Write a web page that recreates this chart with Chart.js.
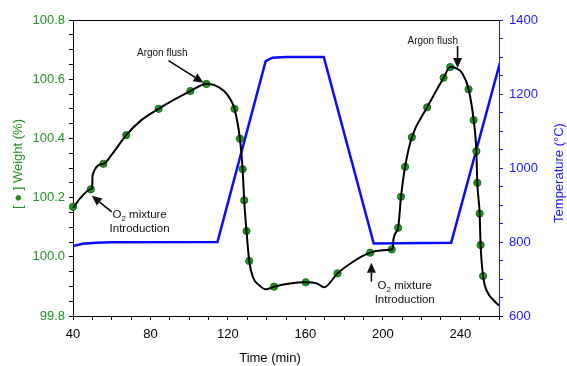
<!DOCTYPE html>
<html>
<head>
<meta charset="utf-8">
<script src="https://cdn.jsdelivr.net/npm/chart.js@4/dist/chart.umd.min.js"></script>
<style>
  html, body { margin: 0; padding: 0; background: #fff; }
  #wrap { width: 567px; height: 366px; position: relative; }
</style>
</head>
<body>
<div id="wrap"><canvas id="tgaChart"></canvas></div>
<script>
// weight curve (time in min, weight in %)
const weightTime = [40, 44, 49.2, 49.9, 50.1, 55.7, 60, 67.5, 75, 84.2, 92, 100.6, 108.9, 113, 118, 121, 123.4, 126.2, 127.6, 128.4, 129.6, 131.0, 133, 136, 139.5, 143.8, 152, 160.2, 166, 169.7, 176.6, 185, 193.5, 200, 204.6, 205.2, 205.5, 207.9, 209.4, 211.5, 215.0, 222.9, 231.4, 234.8, 237.9, 241, 244.3, 246.9, 248.3, 248.8, 250.0, 250.5, 251.8, 254.3, 257, 260];
const weightVal = [100.165, 100.2, 100.228, 100.232, 100.275, 100.314, 100.345, 100.411, 100.46, 100.50, 100.53, 100.56, 100.584, 100.58, 100.56, 100.535, 100.50, 100.399, 100.296, 100.191, 100.087, 99.986, 99.93, 99.905, 99.89, 99.899, 99.91, 99.914, 99.91, 99.897, 99.944, 99.985, 100.014, 100.022, 100.025, 100.03, 100.06, 100.098, 100.203, 100.304, 100.404, 100.505, 100.605, 100.641, 100.637, 100.62, 100.566, 100.462, 100.357, 100.250, 100.146, 100.040, 99.935, 99.877, 99.855, 99.835];

// green markers on the weight curve
const dotTime = [40, 49.2, 55.7, 67.5, 84.2, 100.6, 108.9, 123.4, 126.2, 127.6, 128.4, 129.6, 131.0, 143.8, 160.2, 176.6, 193.5, 204.6, 207.9, 209.4, 211.5, 215.0, 222.9, 231.4, 234.8, 244.3, 246.9, 248.3, 248.8, 250.0, 250.5, 251.8];
const dotVal = [100.169, 100.228, 100.314, 100.411, 100.50, 100.56, 100.584, 100.50, 100.399, 100.296, 100.191, 100.087, 99.986, 99.899, 99.914, 99.944, 100.014, 100.025, 100.098, 100.203, 100.304, 100.404, 100.505, 100.605, 100.641, 100.566, 100.462, 100.357, 100.250, 100.146, 100.040, 99.935];

// furnace temperature program
const tempTime = [40, 45, 52, 60, 114.6, 139.5, 143, 150, 169.5, 195.3, 235.3, 260.4];
const tempVal = [789, 795, 798, 799, 800, 1289, 1298, 1300, 1300, 796, 798, 1283];

// annotations: text anchor and arrow (tail -> head) in data units
const noteText = [['Argon flush'], ['O_2 mixture', 'Introduction'], ['Argon flush'], ['O_2 mixture', 'Introduction']];
const noteAt = [[86.1, 100.689], [74.4, 100.141], [225.8, 100.729], [211.3, 99.901]];
const arrowFrom = [[89.3, 100.6625], [60.0, 100.152], [238.6, 100.712], [194.1, 99.916]];
const arrowTo = [[107.4, 100.588], [49.7, 100.206], [238.6, 100.638], [194.1, 99.98]];

const GREEN = '#229322';
const BLUE = '#1a1aff';
const FONT = '"Liberation Sans", Arial, sans-serif';

const pts = (xs, ys) => xs.map((x, i) => ({ x, y: ys[i] }));

// text with "_2" style subscripts
function drawSubText(ctx, str, cx, cy, size) {
  const parts = str.split('_');
  const segs = [{ t: parts[0], sub: false }];
  for (let i = 1; i < parts.length; i++) {
    segs.push({ t: parts[i].charAt(0), sub: true });
    segs.push({ t: parts[i].slice(1), sub: false });
  }
  let w = 0;
  segs.forEach(s => {
    ctx.font = (s.sub ? size * 0.7 : size) + 'px ' + FONT;
    s.w = ctx.measureText(s.t).width;
    w += s.w;
  });
  let x = cx - w / 2;
  ctx.textAlign = 'left';
  ctx.textBaseline = 'middle';
  segs.forEach(s => {
    ctx.font = (s.sub ? size * 0.7 : size) + 'px ' + FONT;
    ctx.fillText(s.t, x, s.sub ? cy + size * 0.3 : cy);
    x += s.w;
  });
}

function drawArrow(ctx, x1, y1, x2, y2) {
  const ang = Math.atan2(y2 - y1, x2 - x1);
  const len = 10, half = 4.5;
  const bx = x2 - len * Math.cos(ang), by = y2 - len * Math.sin(ang);
  ctx.beginPath();
  ctx.moveTo(x1, y1);
  ctx.lineTo(bx, by);
  ctx.lineWidth = 1.5;
  ctx.stroke();
  ctx.beginPath();
  ctx.moveTo(x2, y2);
  ctx.lineTo(bx + half * Math.sin(ang), by - half * Math.cos(ang));
  ctx.lineTo(bx - half * Math.sin(ang), by + half * Math.cos(ang));
  ctx.closePath();
  ctx.fill();
}

const decorPlugin = {
  id: 'decor',
  afterDatasetsDraw(chart) {
    const { ctx, chartArea, scales } = chart;
    const xs = scales.x, ys = scales.y;
    ctx.save();
    // top frame line
    ctx.strokeStyle = '#000';
    ctx.lineWidth = 1;
    ctx.beginPath();
    ctx.moveTo(chartArea.left, chartArea.top + 0.5);
    ctx.lineTo(chartArea.right, chartArea.top + 0.5);
    ctx.stroke();

    ctx.fillStyle = '#111';
    ctx.strokeStyle = '#000';
    noteText.forEach((lines, i) => {
      const size = lines.length > 1 ? 11.5 : 10;
      const cx = xs.getPixelForValue(noteAt[i][0]);
      const cy = ys.getPixelForValue(noteAt[i][1]);
      lines.forEach((ln, j) => drawSubText(ctx, ln, cx, cy + j * 13.5, size));
      drawArrow(ctx,
        xs.getPixelForValue(arrowFrom[i][0]), ys.getPixelForValue(arrowFrom[i][1]),
        xs.getPixelForValue(arrowTo[i][0]), ys.getPixelForValue(arrowTo[i][1]));
    });
    ctx.restore();
  },
  afterDraw(chart) {
    const { ctx, chartArea } = chart;
    const midY = (chartArea.top + chartArea.bottom) / 2;
    ctx.save();
    ctx.font = '13px ' + FONT;
    ctx.textAlign = 'center';
    ctx.textBaseline = 'middle';
    // left title
    ctx.fillStyle = GREEN;
    ctx.translate(18, midY - 4);
    ctx.rotate(-Math.PI / 2);
    ctx.fillText('[ \u25CF ] Weight (%)', 0, 0);
    ctx.restore();
    // right title
    ctx.save();
    ctx.font = '13px ' + FONT;
    ctx.textAlign = 'center';
    ctx.textBaseline = 'middle';
    ctx.fillStyle = BLUE;
    ctx.translate(559, midY + 5);
    ctx.rotate(-Math.PI / 2);
    ctx.fillText('Temperature (\u00B0C)', 0, 0);
    ctx.restore();
    // bottom title
    ctx.save();
    ctx.font = '13px ' + FONT;
    ctx.textAlign = 'center';
    ctx.textBaseline = 'middle';
    ctx.fillStyle = '#000';
    ctx.fillText('Time (min)', 270, 358);
    ctx.restore();
  }
};

new Chart(document.getElementById('tgaChart'), {
  type: 'line',
  data: {
    datasets: [{
      label: 'Weight',
      data: pts(weightTime, weightVal),
      yAxisID: 'y',
      borderColor: '#000',
      borderWidth: 2,
      pointRadius: 0,
      cubicInterpolationMode: 'monotone',
      fill: false,
      clip: false,
      order: 0
    }, {
      label: 'Weight points',
      data: pts(dotTime, dotVal),
      yAxisID: 'y',
      showLine: false,
      pointRadius: 3.6,
      pointBackgroundColor: '#1d9a1d',
      pointBorderColor: '#137013',
      pointBorderWidth: 1,
      clip: false,
      order: 1
    }, {
      label: 'Temperature',
      data: pts(tempTime, tempVal),
      yAxisID: 'y1',
      borderColor: '#0a0aff',
      borderWidth: 2.5,
      pointRadius: 0,
      tension: 0,
      fill: false,
      order: 2
    }]
  },
  options: {
    responsive: true,
    maintainAspectRatio: false,
    animation: false,
    events: [],
    layout: { padding: { top: 20, left: 0, right: 0, bottom: 0 } },
    plugins: { legend: { display: false }, tooltip: { enabled: false } },
    scales: {
      x: {
        type: 'linear',
        position: 'bottom',
        min: 40,
        max: 260,
        afterFit: s => { s.height = 50; },
        border: { color: '#000', width: 1 },
        grid: { drawOnChartArea: false, tickLength: 4, color: '#000' },
        ticks: {
          stepSize: 10,
          autoSkip: false,
          maxRotation: 0,
          padding: 7,
          color: '#000',
          font: { family: FONT, size: 13 },
          callback: v => (v % 40 === 0 ? v : '')
        }
      },
      y: {
        position: 'left',
        min: 99.8,
        max: 100.8,
        afterFit: s => { s.width = 73; },
        border: { color: '#000', width: 1 },
        grid: { drawOnChartArea: false, tickLength: 4, color: '#000' },
        ticks: {
          stepSize: 0.05,
          maxTicksLimit: 100,
          autoSkip: false,
          padding: 4,
          color: GREEN,
          font: { family: FONT, size: 13 },
          callback: v => (Math.abs(v * 5 - Math.round(v * 5)) < 1e-6 ? v.toFixed(1) : '')
        }
      },
      y1: {
        position: 'right',
        min: 600,
        max: 1400,
        afterFit: s => { s.width = 68; },
        border: { color: BLUE, width: 1 },
        grid: { drawOnChartArea: false, tickLength: 4, color: BLUE },
        ticks: {
          stepSize: 50,
          maxTicksLimit: 100,
          autoSkip: false,
          padding: 6,
          color: BLUE,
          font: { family: FONT, size: 13 },
          callback: v => (v % 200 === 0 ? v : '')
        }
      }
    }
  },
  plugins: [decorPlugin]
});
</script>
</body>
</html>
